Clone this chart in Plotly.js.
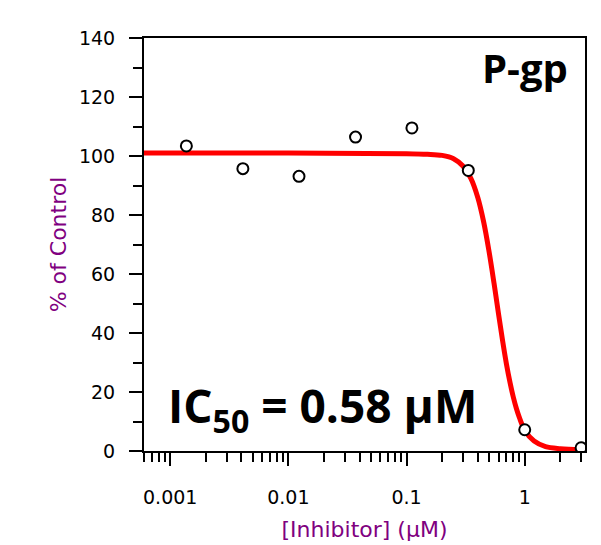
<!DOCTYPE html>
<html>
<head>
<meta charset="utf-8">
<script src="https://cdn.plot.ly/plotly-3.0.1.min.js"></script>
<style>html,body{margin:0;padding:0;background:#fff;}#chart{width:601px;height:545px;}</style>
</head>
<body>
<div id="chart"></div>
<script>
// Measured data points (3-fold dilution series, µM)
const concentrations = [0.00137, 0.00412, 0.0123, 0.037, 0.111, 0.333, 1, 3];
const percentControl = [103.4, 95.7, 93.1, 106.4, 109.5, 95.1, 7.2, 1.1];

// Fitted curve
const fitX = [0.0006, 0.01, 0.1, 0.15, 0.2, 0.25, 0.3, 0.35, 0.4, 0.45, 0.5, 0.55, 0.6, 0.65, 0.7, 0.75, 0.8, 0.85, 0.9, 1.0, 1.2, 1.5, 2, 3];
const fitY = [101, 101, 100.8, 100.6, 100.2, 99.1, 96.6, 92.4, 86, 77.5, 67.4, 56.8, 46.5, 37.3, 29.5, 23.3, 18.3, 14.4, 11.4, 7.0, 3.4, 1.5, 0.8, 0.5];

// Axis ticks
const xTickVals = [0.001, 0.01, 0.1, 1];
const xTickText = ['0.001', '0.01', '0.1', '1'];
const xMinorVals = [0.0006, 0.0007, 0.0008, 0.0009,
  0.002, 0.003, 0.004, 0.005, 0.006, 0.007, 0.008, 0.009,
  0.02, 0.03, 0.04, 0.05, 0.06, 0.07, 0.08, 0.09,
  0.2, 0.3, 0.4, 0.5, 0.6, 0.7, 0.8, 0.9, 2, 3];

const purple = '#800080';
const tickFont = {family: 'DejaVu Sans', size: 19, color: '#000'};

const traces = [
  {x: fitX, y: fitY, type: 'scatter', mode: 'lines',
   line: {color: '#ff0000', width: 5, shape: 'spline'}, hoverinfo: 'skip'},
  {x: concentrations, y: percentControl, type: 'scatter', mode: 'markers',
   marker: {symbol: 'circle', size: 11, color: '#ffffff', line: {color: '#000000', width: 2}}}
];

const layout = {
  width: 601, height: 545,
  margin: {l: 144, r: 16, t: 38, b: 94},
  paper_bgcolor: '#fff', plot_bgcolor: '#fff',
  showlegend: false,
  xaxis: {
    type: 'log', range: [Math.log10(0.0006), 0.51],
    tickmode: 'array', tickvals: xTickVals, ticktext: xTickText,
    ticks: 'outside', ticklen: 13, tickwidth: 2, tickcolor: '#000',
    ticklabelstandoff: 15,
    minor: {tickmode: 'array', tickvals: xMinorVals, ticks: 'outside', ticklen: 9, tickwidth: 2, tickcolor: '#000', showgrid: false},
    showline: true, linecolor: '#000', linewidth: 2, mirror: true,
    showgrid: false, zeroline: false,
    tickfont: tickFont,
    title: {text: '[Inhibitor] (µM)', font: {family: 'DejaVu Sans', size: 22, color: purple}, standoff: 15},
    automargin: false
  },
  yaxis: {
    range: [0, 140], dtick: 20, tick0: 0,
    ticks: 'outside', ticklen: 13, tickwidth: 2, tickcolor: '#000',
    ticklabelstandoff: 10,
    minor: {dtick: 10, ticks: 'outside', ticklen: 9, tickwidth: 2, tickcolor: '#000', showgrid: false},
    showline: true, linecolor: '#000', linewidth: 2, mirror: true,
    showgrid: false, zeroline: false,
    tickfont: tickFont,
    title: {text: '% of Control', font: {family: 'DejaVu Sans', size: 22, color: purple}, standoff: 6},
    automargin: false
  },
  annotations: [
    {xref: 'paper', yref: 'paper', x: 0.965, y: 0.999, xanchor: 'right', yanchor: 'top',
     text: '<b>P-gp</b>', showarrow: false,
     font: {family: 'Open Sans', size: 40, color: '#000'}},
    {xref: 'paper', yref: 'paper', x: 0.05, y: 0.018, xanchor: 'left', yanchor: 'bottom',
     text: '<b>IC<sub>50</sub> = 0.58 µM</b>', showarrow: false,
     font: {family: 'Open Sans', size: 46, color: '#000'}}
  ]
};

Plotly.newPlot('chart', traces, layout, {displayModeBar: false, staticPlot: true});
</script>
</body>
</html>
